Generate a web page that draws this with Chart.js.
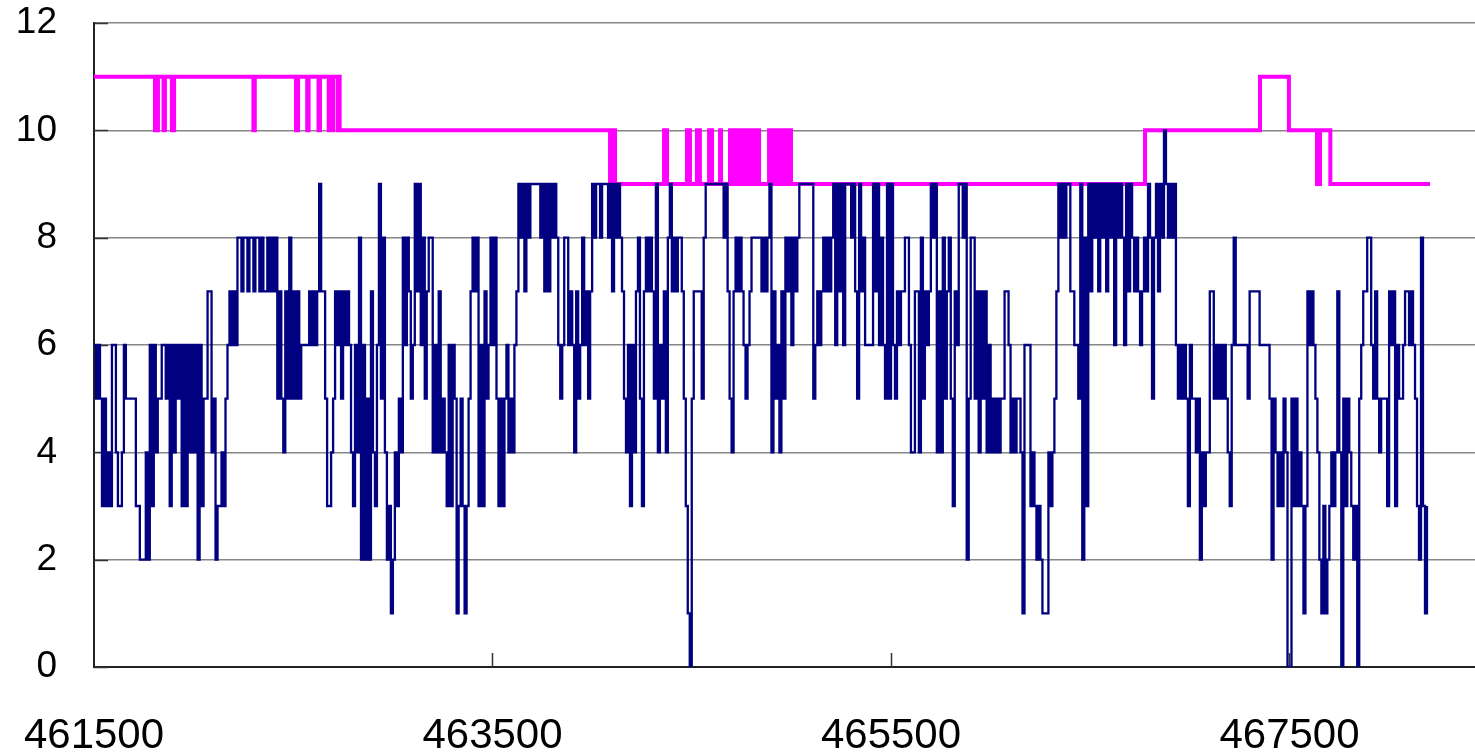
<!DOCTYPE html>
<html>
<head>
<meta charset="utf-8">
<script src="https://cdn.jsdelivr.net/npm/chart.js@4.4.1/dist/chart.umd.min.js"></script>
<style>
  html, body { margin: 0; padding: 0; background: #fff; overflow: hidden; }
  #wrap { width: 1475px; height: 753px; }
</style>
</head>
<body>
<div id="wrap"><canvas id="chart" width="1475" height="753"></canvas></div>
<script>
// Navy series: one reading every 10 units along the x axis, starting at 461500
const navyStart = 461500;
const navyStep = 10;
const navyValues = [
  // 461500 - 462690
  6,5,6,5,3,5,3,4,3,6,  6,4,3,3,4,6,5,5,5,5,  5,3,3,2,2,2,4,2,6,3,
  6,4,5,5,6,6,5,6,3,6,  4,6,5,6,3,6,3,6,4,6,  4,6,2,6,3,5,5,7,7,4,
  5,2,3,3,4,3,5,6,7,6,  7,6,8,8,7,8,8,7,8,8,  7,8,8,7,8,7,7,8,7,8,
  7,8,5,7,5,4,7,5,8,5,  7,5,7,5,6,6,6,6,7,6,  7,6,7,9,7,7,5,3,3,4,
  // 462700 - 463890
  5,7,6,7,5,7,6,7,6,4,  3,6,4,8,2,6,2,5,2,7,  4,3,6,9,5,8,4,2,3,1,
  2,4,3,5,4,8,6,8,7,5,  6,9,7,9,6,8,5,7,8,8,  4,6,4,7,4,5,4,3,6,3,
  6,5,1,3,5,3,1,3,5,7,  8,7,8,3,6,3,7,5,6,8,  6,8,5,3,5,3,5,6,4,5,
  4,6,7,9,8,9,7,9,8,9,  9,9,9,9,8,9,7,9,7,9,  8,9,8,6,5,6,8,8,6,7,
  // 463900 - 465090
  6,4,7,5,6,8,6,7,5,7,  9,8,9,9,8,9,9,9,8,9,  7,9,8,9,8,7,5,4,6,3,
  6,4,7,8,5,3,7,8,7,8,  7,5,9,4,6,5,7,4,8,9,  7,8,7,8,8,7,5,3,1,0,
  5,7,7,7,7,5,8,9,9,9,  9,9,9,9,9,9,8,9,7,5,  4,7,8,7,8,7,6,5,6,7,
  8,8,8,8,8,7,8,7,8,9,  4,7,5,6,4,7,5,8,7,8,  6,8,7,8,9,9,9,9,9,9,
  // 465100 - 466290
  9,5,6,7,6,7,8,7,8,7,  8,9,6,9,7,9,6,9,9,9,  8,9,7,5,9,7,8,6,6,6,
  6,9,7,9,6,8,6,5,9,5,  9,6,5,7,6,7,7,8,8,6,  4,4,7,7,4,8,5,7,6,7,
  9,8,9,4,7,4,8,5,7,8,  5,3,7,6,9,9,8,9,2,5,  8,8,5,7,4,7,5,7,4,6,
  4,5,4,5,4,5,5,7,7,6,  4,5,4,5,5,4,1,6,6,6,  3,4,3,2,3,2,1,1,1,4,
  // 466300 - 467490
  3,4,5,7,9,8,9,8,9,9,  7,7,6,6,5,9,2,8,3,9,  7,9,8,9,7,9,8,9,7,9,
  8,9,6,9,8,9,8,6,9,7,  9,8,7,8,7,6,7,8,7,9,  8,5,8,9,7,9,8,10,9,8,
  9,8,9,6,5,6,5,6,5,3,  6,5,5,4,5,2,4,3,4,4,  7,7,5,6,5,6,5,6,5,4,
  3,6,8,6,6,6,6,6,6,5,  7,7,7,7,7,6,6,6,6,6,  5,2,5,4,3,4,3,5,4,0,
  // 467500 - 468190
  0,5,3,5,3,4,3,1,3,7,  6,7,6,5,4,2,1,3,1,2,  3,4,3,4,7,4,0,5,3,5,
  4,3,2,3,0,5,6,7,7,8,  8,6,5,7,5,4,5,5,5,3,  7,6,7,3,6,5,5,6,7,7,
  6,7,6,5,3,2,8,3,1,3
];

// Magenta series: positions where the level changes, and the level from there on
const pinkX = [
  461500, 461806, 461811, 461816, 461821, 461849, 461856, 461891, 461896, 461899, 461902,
  462300, 462307, 462514, 462519, 462521, 462524, 462570, 462577, 462627, 462634,
  462678, 462683, 462688, 462693, 462696, 462700, 462723, 462728, 462733, 462740,
  464090, 464100, 464115,
  464361, 464366, 464371, 464376, 464381,
  464476, 464481, 464486, 464491,
  464526, 464531, 464536, 464541,
  464587, 464592, 464597, 464602, 464607,
  464642, 464647,
  464692, 464702, 464712, 464722, 464732, 464742, 464752, 464762,
  464772, 464782, 464792, 464802, 464812, 464822, 464832, 464838,
  464888, 464898, 464908, 464918, 464928, 464938, 464948, 464958,
  464968, 464978, 464988, 464998,
  466775, 467352, 467497, 467638, 467643, 467648, 467653, 467705, 468205
];
const pinkY = [
  11, 10, 11, 10, 11, 10, 11, 10, 11, 10, 11,
  10, 11, 10, 11, 10, 11, 10, 11, 10, 11,
  10, 11, 10, 11, 10, 11, 10, 11, 10, 10,
  9, 10, 9,
  10, 9, 10, 9, 9,
  10, 9, 10, 9,
  10, 9, 10, 9,
  10, 9, 10, 9, 9,
  10, 9,
  10, 9, 10, 9, 10, 9, 10, 9,
  10, 9, 10, 9, 10, 9, 10, 9,
  10, 9, 10, 9, 10, 9, 10, 9,
  10, 9, 10, 9,
  10, 11, 10, 9, 10, 9, 10, 9, 9
];

const xTicks = [461500, 463500, 465500, 467500];
const xMin = 461500;
const xMax = 468431;
const yMin = 0;
const yMax = 12;
const yStep = 2;

const navyPoints = navyValues.map((v, i) => ({ x: navyStart + i * navyStep, y: v }));
const pinkPoints = pinkX.map((x, i) => ({ x: x, y: pinkY[i] }));

const FONT = "'Liberation Sans', Arial, sans-serif";

// keep the plot area fixed: no extra room for overhanging labels
function noOverhang(scale) {
  scale.paddingTop = 0;
  scale.paddingBottom = 0;
  scale.paddingLeft = 0;
  scale.paddingRight = 0;
}

// short tick marks drawn inside the plot area, over the grid
const innerTicks = {
  id: 'innerTicks',
  beforeDatasetsDraw(chart) {
    const { ctx, scales: { x, y }, chartArea } = chart;
    ctx.save();
    ctx.strokeStyle = '#333';
    ctx.lineWidth = 1.5;
    y.ticks.forEach(t => {
      const py = Math.round(y.getPixelForValue(t.value)) + 0.5;
      ctx.beginPath();
      ctx.moveTo(chartArea.left, py);
      ctx.lineTo(chartArea.left + 14, py);
      ctx.stroke();
    });
    x.ticks.forEach(t => {
      if (t.value === xMin) return;
      const px = Math.round(x.getPixelForValue(t.value)) + 0.5;
      ctx.beginPath();
      ctx.moveTo(px, chartArea.bottom);
      ctx.lineTo(px, chartArea.bottom - 14);
      ctx.stroke();
    });
    ctx.restore();
  }
};

new Chart(document.getElementById('chart'), {
  type: 'line',
  data: {
    datasets: [
      {
        data: navyPoints,
        borderColor: '#000080',
        borderWidth: 2.3,
        pointRadius: 0,
        stepped: true,
        fill: false
      },
      {
        data: pinkPoints,
        borderColor: '#FF00FF',
        borderWidth: 4,
        pointRadius: 0,
        stepped: true,
        fill: false
      }
    ]
  },
  options: {
    responsive: false,
    animation: false,
    devicePixelRatio: 1,
    layout: { padding: { top: 23, left: 0, right: 0, bottom: 0 } },
    plugins: { legend: { display: false }, tooltip: { enabled: false } },
    scales: {
      x: {
        type: 'linear',
        min: xMin,
        max: xMax,
        afterBuildTicks(scale) { scale.ticks = xTicks.map(v => ({ value: v })); },
        afterFit(scale) { scale.height = 86; noOverhang(scale); },
        grid: { drawOnChartArea: false, drawTicks: false },
        border: { color: '#222', width: 2 },
        ticks: {
          font: { family: FONT, size: 42 },
          color: '#000',
          padding: 44,
          maxRotation: 0,
          autoSkip: false,
          callback: v => String(v)
        }
      },
      y: {
        min: yMin,
        max: yMax,
        afterFit(scale) { scale.width = 94; noOverhang(scale); },
        grid: { color: '#868686', lineWidth: 1.5, drawTicks: false },
        border: { color: '#222', width: 2 },
        ticks: {
          stepSize: yStep,
          font: { family: FONT, size: 37 },
          color: '#000',
          padding: 37
        }
      }
    }
  },
  plugins: [innerTicks]
});
</script>
</body>
</html>
